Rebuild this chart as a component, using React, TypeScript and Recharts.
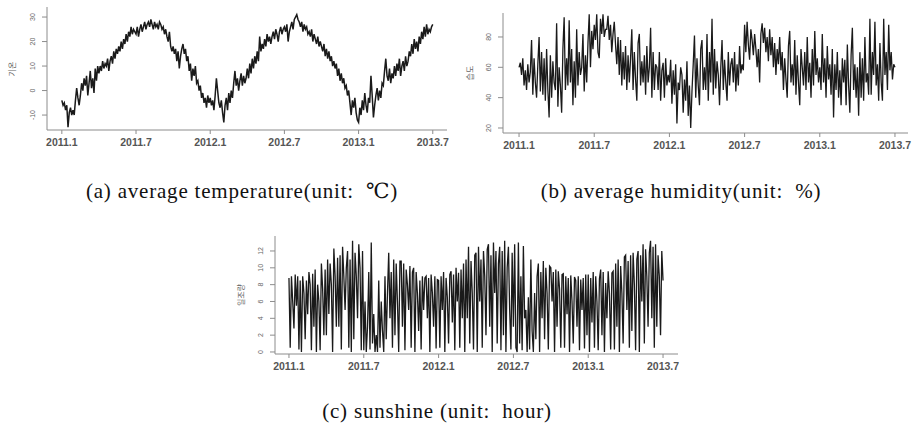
import React from 'react';
import { LineChart, Line, XAxis, YAxis } from 'recharts';

// time axis: months since 2011.1, one value every 0.1 month (~3 days)
const xTickMonths = [0, 6, 12, 18, 24, 30];
const xTickLabels = ['2011.1', '2011.7', '2012.1', '2012.7', '2013.1', '2013.7'];
const stepMonths = 0.1;

const temperature = [
  -4, -6, -5, -8, -6, -15, -9, -7, -10, -8,
  -10, -4, 1, -3, -6, -2, 3, 0, 5, 2,
  6, -2, 3, 8, 1, 5, -1, 9, 4, 10,
  7, 10, 8, 12, 9, 11, 10, 13, 8, 12,
  14, 11, 16, 13, 17, 15, 18, 16, 20, 17,
  21, 19, 23, 20, 24, 22, 26, 23, 25, 24,
  23, 26, 22, 25, 27, 24, 26, 28, 25, 27,
  28, 26, 29, 27, 25, 28, 26, 27, 25, 28,
  27, 25, 26, 23, 25, 22, 20, 24, 18, 16,
  18, 15, 17, 12, 16, 9, 14, 17, 19, 15,
  17, 12, 14, 8, 11, 4, 9, 6, 10, 3,
  4, 0, 2, -3, -1, -5, -3, -7, -2, -5,
  -3, -6, -4, -8, -2, 5, 0, -5, -7, -4,
  -9, -13, -6, -3, -8, -1, -5, 0, -3, 3,
  8, 2, 5, 0, 4, 7, 2, 6, 3, 5,
  9, 5, 11, 7, 13, 9, 14, 11, 16, 12,
  22, 16, 19, 17, 21, 18, 23, 20, 22, 19,
  22, 24, 21, 25, 23, 20, 24, 26, 23, 25,
  26, 24, 27, 20, 24, 26, 28, 25, 29, 30,
  31, 29, 28, 26, 28, 24, 27, 25, 26, 23,
  24, 22, 25, 20, 23, 21, 19, 22, 18, 20,
  18, 16, 19, 14, 17, 13, 16, 12, 14, 10,
  12, 9, 11, 6, 9, 4, 7, 3, 5, 1,
  2, -2, 0, -5, -10, -4, -7, -3, -9, -12,
  -13, -7, -10, -4, -8, -1, -6, -9, -3, -5,
  6, -2, -11, -6, -2, 1, -4, 0, -3, 3,
  2, 8, 13, 6, 4, 9, 3, 7, 5, 10,
  6, 11, 8, 13, 6, 10, 12, 8, 14, 10,
  12, 16, 14, 19, 15, 21, 17, 20, 16, 22,
  19, 24, 21, 26, 22, 27, 23, 25, 24, 26,
  27,
];

const humidity = [
  60, 63, 55, 66, 48, 58, 45, 62, 50, 57,
  78, 42, 66, 50, 40, 62, 80, 44, 70, 42,
  66, 38, 72, 45, 27, 68, 40, 64, 50, 45,
  89, 34, 60, 48, 30, 72, 93, 45, 66, 48,
  91, 50, 72, 35, 64, 40, 85, 48, 70, 55,
  60, 82, 44, 68, 50, 76, 95, 60, 84, 72,
  88, 78, 95, 70, 66, 92, 82, 95, 80, 85,
  85, 94, 78, 88, 70, 82, 90, 75, 62, 80,
  55, 78, 48, 70, 52, 74, 45, 68, 50, 66,
  85, 45, 70, 52, 38, 76, 82, 48, 64, 50,
  68, 42, 74, 50, 60, 86, 40, 70, 45, 62,
  60, 45, 70, 38, 58, 63, 40, 66, 48, 55,
  50, 65, 36, 58, 42, 62, 23, 50, 45, 60,
  55, 30, 52, 38, 64, 28, 48, 20, 44, 62,
  81, 40, 66, 48, 35, 72, 78, 45, 60, 45,
  82, 38, 70, 50, 92, 42, 72, 46, 64, 55,
  35, 60, 78, 45, 65, 50, 38, 70, 48, 62,
  66, 50, 70, 44, 62, 48, 74, 56, 62, 58,
  88, 70, 90, 75, 65, 85, 78, 68, 82, 72,
  60, 72, 50, 82, 89, 76, 86, 70, 80, 64,
  85, 68, 80, 60, 76, 55, 72, 62, 80, 58,
  70, 45, 66, 52, 40, 74, 84, 50, 62, 48,
  78, 42, 68, 50, 35, 72, 60, 48, 70, 45,
  80, 50, 63, 40, 72, 48, 84, 55, 66, 50,
  60, 45, 82, 50, 66, 40, 74, 52, 62, 42,
  72, 27, 62, 45, 70, 40, 58, 35, 66, 50,
  65, 35, 75, 48, 30, 68, 86, 45, 62, 40,
  60, 28, 70, 40, 66, 38, 80, 50, 56, 42,
  92, 42, 70, 55, 90, 48, 62, 38, 76, 50,
  38, 92, 55, 70, 45, 88, 58, 70, 52, 62,
  60,
];

const sunshine = [
  8.8, 0.5, 9, 6, 2.8, 9.2, 5.5, 9, 0.3, 8.5,
  0, 9, 7, 1.5, 8.5, 4.5, 9.5, 8, 0.2, 9.3,
  3, 9.8, 0, 8, 6, 0.2, 10.5, 7.5, 2, 9.8,
  2, 11, 4.5, 10.5, 8, 0, 12.3, 9, 3, 11.2,
  3, 11.5, 0.3, 12.5, 9, 5, 10, 12, 0.5, 11,
  0, 13.2, 1.5, 11.8, 9, 4, 12.8, 10, 0.2, 12,
  0.2, 6, 0, 3, 9.5, 0.3, 13, 1, 4.5, 0,
  2, 0, 8.5, 0.5, 6, 2.5, 0, 9, 1.5, 7,
  11.8, 4, 9.5, 0.5, 11, 2, 10.5, 6, 0, 10.8,
  10.8, 3, 10.5, 0.2, 9.8, 8, 5, 10.2, 0.5, 9.5,
  10, 0, 9.5, 7, 2.5, 8.5, 0.3, 9, 5, 8.8,
  9, 4, 8.8, 0, 9.2, 7, 3, 9, 0.4, 8.6,
  8.5, 0.5, 9, 5, 9.5, 0, 8.8, 6.5, 1, 9.2,
  9.6, 3.5, 9.2, 0.2, 10, 6, 9.4, 0.5, 9.8, 4,
  10.5, 0, 11, 4, 12.5, 1, 10.8, 7, 0.3, 11.5,
  11.8, 0, 12.5, 6, 11, 0.5, 12, 9, 2, 12.2,
  12.8, 3, 11.5, 0, 13, 7, 12, 1, 10.5, 12.5,
  0.2, 12, 2, 13.2, 0, 10, 12.5, 5, 0.3, 11.8,
  3, 12.8, 0.5, 0, 13, 1, 9, 0.2, 12.6, 4,
  5, 0, 6.5, 0.3, 11, 2.5, 0, 7, 1.5, 9,
  10.5, 0, 9.5, 4, 10.8, 1.5, 10, 7, 0.3, 10.2,
  10, 6, 9.5, 0, 9.8, 3, 9.6, 7.5, 0.5, 9.2,
  9.3, 0.5, 9, 4.5, 8.8, 0, 9.1, 6, 1, 8.9,
  8.5, 3, 9, 0.2, 8.6, 5, 8.8, 0.4, 9.2, 2,
  9.2, 0, 8.8, 3.5, 9.5, 0.5, 9, 6, 0.2, 8.7,
  9.8, 2, 9.5, 0, 8.2, 4, 9.6, 7, 0.3, 9.4,
  9.6, 0.3, 10.5, 3, 11, 0, 10.2, 7, 1, 11.3,
  11.5, 5, 10.8, 0.5, 11.5, 2.5, 11.8, 8, 0.2, 11,
  12, 0, 11.5, 6, 12.8, 1, 12.2, 9, 3, 11.8,
  13.2, 4, 12.5, 0.5, 12.8, 3, 11.5, 9, 2, 12,
  8.5,
];

const tempTicks = [-10, 0, 10, 20, 30];
const humTicks = [20, 40, 60, 80];
const sunTicks = [0, 2, 4, 6, 8, 10, 12];

const toRows = (vals: number[]) => vals.map((v, i) => ({ m: i * stepMonths, v }));

const FRAME = '#8c8c8c';

const YTick = (props: any) => {
  const { x, y, payload } = props;
  const cx = x - 7.5;
  return (
    <text
      transform={`translate(${cx},${y}) rotate(-90)`}
      textAnchor="middle"
      fontSize={7}
      fill="#666"
      fontFamily="'Liberation Sans', Arial, sans-serif"
    >
      {payload.value}
    </text>
  );
};

const fmtX = (v: number) => {
  const i = xTickMonths.indexOf(v);
  return i >= 0 ? xTickLabels[i] : '';
};

type PanelProps = {
  left: number; top: number; width: number; height: number;
  margin: { top: number; right: number; bottom: number; left: number };
  yWidth: number;
  xDomain: [number, number];
  yDomain: [number, number];
  yTicks: number[];
  values: number[];
  strokeWidth: number;
};

function Panel(p: PanelProps) {
  const rows = toRows(p.values);
  return (
    <div style={{ position: 'absolute', left: p.left, top: p.top }}>
      <LineChart width={p.width} height={p.height} data={rows} margin={p.margin}>
        <XAxis
          dataKey="m"
          type="number"
          domain={p.xDomain}
          ticks={xTickMonths}
          tickFormatter={fmtX}
          allowDataOverflow
          height={20}
          tickSize={4}
          tickMargin={5}
          interval={0}
          stroke={FRAME}
          tick={{ fontSize: 10.5, fill: '#555', fontWeight: 'bold', fontFamily: "'Liberation Sans', Arial, sans-serif" }}
        />
        <XAxis xAxisId="top" dataKey="m" type="number" domain={p.xDomain} orientation="top" height={0} tick={false} tickLine={false} stroke={FRAME} allowDataOverflow />
        <YAxis
          type="number"
          domain={p.yDomain}
          ticks={p.yTicks}
          allowDataOverflow
          width={p.yWidth}
          tickSize={5}
          tickMargin={0}
          interval={0}
          stroke={FRAME}
          tick={<YTick />}
        />
        <YAxis yAxisId="right" orientation="right" type="number" domain={p.yDomain} width={0} tick={false} tickLine={false} stroke={FRAME} allowDataOverflow />
        <Line
          type="linear"
          dataKey="v"
          stroke="#1a1a1a"
          strokeWidth={p.strokeWidth}
          dot={false}
          isAnimationActive={false}
        />
      </LineChart>
    </div>
  );
}

const captionStyle: React.CSSProperties = {
  position: 'absolute',
  width: 500,
  textAlign: 'center',
  fontFamily: "'Liberation Serif', 'DejaVu Serif', serif",
  fontSize: 21,
  lineHeight: '22px',
  letterSpacing: 0.8,
  whiteSpace: 'pre',
  color: '#111',
};

const axisTitle = (x: number, y: number, text: string) => (
  <div
    style={{
      position: 'absolute',
      left: x - 20,
      top: y - 6,
      width: 40,
      height: 12,
      lineHeight: '12px',
      textAlign: 'center',
      fontSize: 8,
      color: '#666',
      fontFamily: "'Noto Sans CJK KR', sans-serif",
      transform: 'rotate(-90deg)',
    }}
  >
    {text}
  </div>
);

export default function App() {
  return (
    <div style={{ position: 'absolute', left: 0, top: 0, width: 912, height: 425, background: '#fff', overflow: 'hidden' }}>
      <Panel
        left={0} top={0} width={460} height={160}
        margin={{ top: 7, right: 13, bottom: 10, left: 0 }}
        yWidth={47}
        xDomain={[-1.2, 31.15]}
        yDomain={[-16.1, 34.1]}
        yTicks={tempTicks}
        values={temperature}
        strokeWidth={1.5}
      />
      <Panel
        left={460} top={0} width={452} height={160}
        margin={{ top: 13, right: 4, bottom: 7, left: 0 }}
        yWidth={43}
        xDomain={[-1.28, 31.04]}
        yDomain={[16.7, 95.8]}
        yTicks={humTicks}
        values={humidity}
        strokeWidth={1.3}
      />
      <Panel
        left={230} top={225} width={460} height={150}
        margin={{ top: 11, right: 12, bottom: 1, left: 0 }}
        yWidth={45}
        xDomain={[-1.12, 31.2]}
        yDomain={[-0.24, 13.78]}
        yTicks={sunTicks}
        values={sunshine}
        strokeWidth={1.3}
      />
      {axisTitle(12, 69, '기온')}
      {axisTitle(470, 73, '습도')}
      {axisTitle(241, 295, '일조량')}
      <div style={{ ...captionStyle, left: 242 - 250, top: 180 }}>{'(a) average temperature(unit:  ℃)'}</div>
      <div style={{ ...captionStyle, left: 681 - 250, top: 180 }}>{'(b) average humidity(unit:  %)'}</div>
      <div style={{ ...captionStyle, left: 437 - 250, top: 400 }}>{'(c) sunshine (unit:  hour)'}</div>
    </div>
  );
}
